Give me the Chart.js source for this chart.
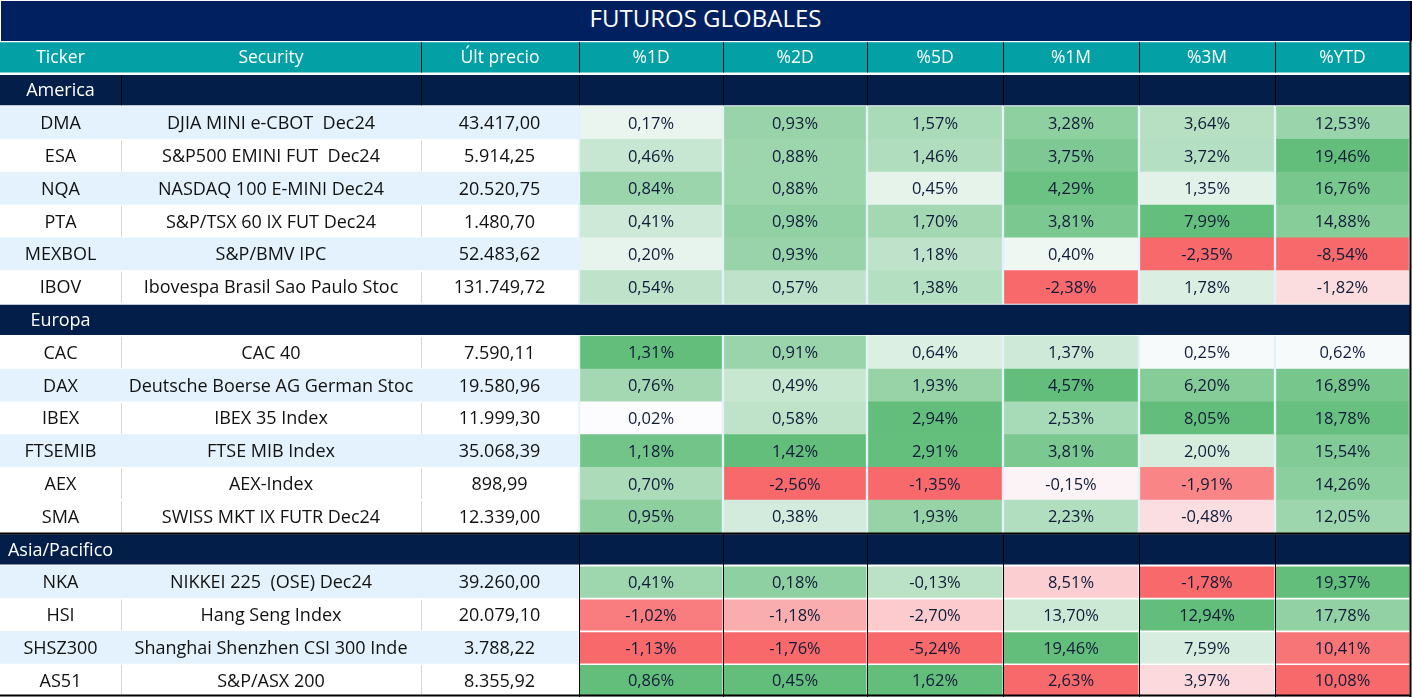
<!DOCTYPE html>
<html>
<head>
<meta charset="utf-8">
<script src="https://cdn.jsdelivr.net/npm/chart.js@4.4.1/dist/chart.umd.min.js"></script>
<style>
  html, body { margin: 0; padding: 0; background: #fff; }
  #wrap { position: relative; width: 1412px; height: 697px; overflow: hidden; }
  #title {
    position: absolute; left: 1px; top: 1px; width: 1409px; height: 40px;
    background: #002060; color: #fff; text-align: center; line-height: 42px;
    font: 24px "Open Sans", sans-serif; border-right: 2px solid #000;
  }
  #box { position: absolute; left: 0; top: 41px; width: 1412px; height: 656px; }
</style>
</head>
<body>
<div id="wrap">
  <div id="title">FUTUROS GLOBALES</div>
  <div id="box"><canvas id="tbl"></canvas></div>
</div>
<script>
// Futuros globales - heat table drawn as floating horizontal bars

const headers = ['Ticker', 'Security', 'Últ precio', '%1D', '%2D', '%5D', '%1M', '%3M', '%YTD'];
const regionNames = ['America', 'Europa', 'Asia/Pacifico'];

const tickers = ['DMA', 'ESA', 'NQA', 'PTA', 'MEXBOL', 'IBOV',
  'CAC', 'DAX', 'IBEX', 'FTSEMIB', 'AEX', 'SMA',
  'NKA', 'HSI', 'SHSZ300', 'AS51'];
const regions = ['America', 'America', 'America', 'America', 'America', 'America',
  'Europa', 'Europa', 'Europa', 'Europa', 'Europa', 'Europa',
  'Asia/Pacifico', 'Asia/Pacifico', 'Asia/Pacifico', 'Asia/Pacifico'];
const securities = ['DJIA MINI e-CBOT  Dec24', 'S&P500 EMINI FUT  Dec24', 'NASDAQ 100 E-MINI Dec24',
  'S&P/TSX 60 IX FUT Dec24', 'S&P/BMV IPC', 'Ibovespa Brasil Sao Paulo Stoc',
  'CAC 40', 'Deutsche Boerse AG German Stoc', 'IBEX 35 Index', 'FTSE MIB Index',
  'AEX-Index', 'SWISS MKT IX FUTR Dec24',
  'NIKKEI 225  (OSE) Dec24', 'Hang Seng Index', 'Shanghai Shenzhen CSI 300 Inde', 'S&P/ASX 200'];
const lastPrice = [43417.00, 5914.25, 20520.75, 1480.70, 52483.62, 131749.72,
  7590.11, 19580.96, 11999.30, 35068.39, 898.99, 12339.00,
  39260.00, 20079.10, 3788.22, 8355.92];

const pct1D = [0.17, 0.46, 0.84, 0.41, 0.20, 0.54, 1.31, 0.76, 0.02, 1.18, 0.70, 0.95, 0.41, -1.02, -1.13, 0.86];
const pct2D = [0.93, 0.88, 0.88, 0.98, 0.93, 0.57, 0.91, 0.49, 0.58, 1.42, -2.56, 0.38, 0.18, -1.18, -1.76, 0.45];
const pct5D = [1.57, 1.46, 0.45, 1.70, 1.18, 1.38, 0.64, 1.93, 2.94, 2.91, -1.35, 1.93, -0.13, -2.70, -5.24, 1.62];
const pct1M = [3.28, 3.75, 4.29, 3.81, 0.40, -2.38, 1.37, 4.57, 2.53, 3.81, -0.15, 2.23, 8.51, 13.70, 19.46, 2.63];
const pct3M = [3.64, 3.72, 1.35, 7.99, -2.35, 1.78, 0.25, 6.20, 8.05, 2.00, -1.91, -0.48, -1.78, 12.94, 7.59, 3.97];
const pctYTD = [12.53, 19.46, 16.76, 14.88, -8.54, -1.82, 0.62, 16.89, 18.78, 15.54, 14.26, 12.05, 19.37, 17.78, 10.41, 10.08];
const pctCols = [pct1D, pct2D, pct5D, pct1M, pct3M, pctYTD];

// rows with the light blue fill in the first three columns
const shadedRows = ['DMA', 'NQA', 'MEXBOL', 'DAX', 'FTSEMIB', 'NKA', 'SHSZ300'];

// layout (canvas pixels = x units)
const colEdges = [0, 121, 421, 579, 723, 867, 1003, 1139, 1275, 1410];
const FONT = '"Open Sans", sans-serif';

// colour scale groups, like the sheet's conditional formats
const scaleGroups = [
  { regions: ['America', 'Europa'], mid: 'zero' },
  { regions: ['Asia/Pacifico'], mid: 'median' }
];

const RED = [248, 105, 107], WHITE = [252, 252, 255], GREEN = [99, 190, 123];

function mix(a, b, t) {
  t = Math.max(0, Math.min(1, t));
  return 'rgb(' + a.map((c, i) => Math.round(c + (b[i] - c) * t)).join(',') + ')';
}

function median(vals) {
  const s = vals.slice().sort((a, b) => a - b);
  const m = Math.floor(s.length / 2);
  return s.length % 2 ? s[m] : (s[m - 1] + s[m]) / 2;
}

function heatColor(v, vals, rule) {
  const lo = Math.min(...vals), hi = Math.max(...vals);
  const mid = rule === 'median' ? median(vals) : Math.min(Math.max(0, lo), hi);
  if (v >= mid) return mix(WHITE, GREEN, hi > mid ? (v - mid) / (hi - mid) : 0);
  return mix(WHITE, RED, (mid - v) / (mid - lo));
}

function fmtNum(v) {
  const parts = v.toFixed(2).split('.');
  return parts[0].replace(/\B(?=(\d{3})+(?!\d))/g, '.') + ',' + parts[1];
}

// category rows, top to bottom
const rowKeys = ['hdr'];
regionNames.forEach(r => {
  rowKeys.push('sec:' + r);
  tickers.forEach((t, i) => { if (regions[i] === r) rowKeys.push(t); });
});

const headerCells = headers.map((h, c) => ({ x: [colEdges[c], colEdges[c + 1]], y: 'hdr', t: h }));

const sectionCells = [];
regionNames.forEach(r => {
  sectionCells.push({ x: [colEdges[0], colEdges[1]], y: 'sec:' + r, t: r });
  sectionCells.push({ x: [colEdges[1], colEdges[9]], y: 'sec:' + r, t: '' });
});

const rowCells = [];
tickers.forEach((t, i) => {
  const bg = shadedRows.includes(t) ? '#e4f2fd' : '#ffffff';
  rowCells.push({ x: [colEdges[0], colEdges[1]], y: t, t: t, bg: bg });
  rowCells.push({ x: [colEdges[1], colEdges[2]], y: t, t: securities[i], bg: bg });
  rowCells.push({ x: [colEdges[2], colEdges[3] - 1], y: t, t: fmtNum(lastPrice[i]), bg: bg });
});

const heatBgCells = [];
const heatCellsAE = [];
const heatCellsAsia = [];
scaleGroups.forEach(g => {
  const idx = tickers.map((t, i) => i).filter(i => g.regions.includes(regions[i]));
  pctCols.forEach((col, c) => {
    const vals = idx.map(i => col[i]);
    idx.forEach(i => {
      const cell = {
        x: [colEdges[c + 3] + 1.5, colEdges[c + 4] - 1.5], y: tickers[i],
        t: fmtNum(col[i]) + '%', bg: heatColor(col[i], vals, g.mid)
      };
      if (g.mid === 'zero') heatCellsAE.push(cell);
      else { cell.x = [colEdges[c + 3] + 0.5, colEdges[c + 4] - 0.5]; heatCellsAsia.push(cell); }
    });
  });
  if (g.mid === 'zero') idx.forEach(i => heatBgCells.push({ x: [colEdges[3] - 1, colEdges[9]], y: tickers[i] }));
});

const cellBg = ctx => (ctx.raw && ctx.raw.bg) || '#fff';

// grid lines and cell texts
const tablePlugin = {
  id: 'tableText',
  afterDatasetsDraw(chart) {
    const c = chart.ctx;
    const xs = chart.scales.x, ys = chart.scales.y;
    const half = (ys.getPixelForValue(1) - ys.getPixelForValue(0)) / 2;
    const top = k => ys.getPixelForValue(rowKeys.indexOf(k)) - half;
    const bot = k => ys.getPixelForValue(rowKeys.indexOf(k)) + half;
    const vline = (x, y0, y1, color, w) => {
      c.save();
      c.strokeStyle = color; c.lineWidth = w || 1;
      c.beginPath(); c.moveTo(Math.round(xs.getPixelForValue(x)) + 0.5, y0);
      c.lineTo(Math.round(xs.getPixelForValue(x)) + 0.5, y1); c.stroke();
      c.restore();
    };
    const hline = (y, color, w) => {
      c.save();
      c.strokeStyle = color; c.lineWidth = w;
      c.beginPath(); c.moveTo(0, y); c.lineTo(xs.getPixelForValue(colEdges[9]) + 1, y); c.stroke();
      c.restore();
    };

    // header and section separators
    const hm = chart.getDatasetMeta(0).data[0];
    const hb = hm.getProps(['y', 'height'], true);
    colEdges.slice(2, 9).forEach(e => vline(e, hb.y - hb.height / 2, hb.y + hb.height / 2, '#000'));
    const am = ys.getPixelForValue(rowKeys.indexOf('sec:America'));
    colEdges.slice(1, 9).forEach(e => vline(e, am - hb.height / 2, am + hb.height / 2, '#000'));
    const asiaTop = top('sec:Asia/Pacifico');
    colEdges.slice(3, 9).forEach(e => vline(e, asiaTop + 2, bot('AS51'), '#000'));

    // light grey separators on the white rows
    tickers.forEach(t => {
      if (shadedRows.includes(t)) return;
      [colEdges[1], colEdges[2]].forEach(e => vline(e, top(t) + 1, bot(t) - 1, '#d6d6d6'));
    });

    // borders
    hline(asiaTop + 0.5, '#000', 2);
    hline(bot('AS51') - 1.5, '#000', 2);
    vline(colEdges[9], 0, bot('AS51'), '#000', 2);

    // texts
    chart.data.datasets.forEach((ds, di) => {
      if (!ds.textColor) return;
      const meta = chart.getDatasetMeta(di);
      c.save();
      c.fillStyle = ds.textColor;
      c.font = ds.textFont;
      c.textAlign = 'center';
      c.textBaseline = 'middle';
      meta.data.forEach((el, j) => {
        const raw = ds.data[j];
        if (!raw.t) return;
        const p = el.getProps(['x', 'y', 'base'], true);
        c.fillText(raw.t, (p.x + p.base) / 2, p.y + 1);
      });
      c.restore();
    });
  }
};

const barBase = { grouped: false, categoryPercentage: 1, borderWidth: 0, borderSkipped: false };

new Chart(document.getElementById('tbl'), {
  type: 'bar',
  data: {
    labels: rowKeys,
    datasets: [
      Object.assign({}, barBase, { label: 'header', data: headerCells, barPercentage: 0.92,
        backgroundColor: '#03a0a5', textColor: '#ffffff', textFont: '17.5px ' + FONT, order: 1 }),
      Object.assign({}, barBase, { label: 'sections', data: sectionCells, barPercentage: 0.92,
        backgroundColor: '#041e4a', textColor: '#ffffff', textFont: '18px ' + FONT, order: 1 }),
      Object.assign({}, barBase, { label: 'rows', data: rowCells, barPercentage: 1,
        backgroundColor: cellBg, textColor: '#111111', textFont: '18px ' + FONT, order: 1 }),
      Object.assign({}, barBase, { label: 'heatBg', data: heatBgCells, barPercentage: 1,
        backgroundColor: '#e4f1fb', order: 3 }),
      Object.assign({}, barBase, { label: 'heatAE', data: heatCellsAE, barPercentage: 1,
        backgroundColor: cellBg, textColor: '#101b38', textFont: '16.5px ' + FONT, order: 2 }),
      Object.assign({}, barBase, { label: 'heatAsia', data: heatCellsAsia, barPercentage: 0.95,
        backgroundColor: cellBg, textColor: '#101b38', textFont: '16.5px ' + FONT, order: 2 })
    ]
  },
  options: {
    indexAxis: 'y',
    responsive: true,
    maintainAspectRatio: false,
    animation: false,
    events: [],
    layout: { padding: 0 },
    plugins: { legend: { display: false }, tooltip: { enabled: false }, title: { display: false } },
    scales: {
      x: { type: 'linear', min: 0, max: 1412, display: false },
      y: { type: 'category', display: false, offset: true }
    }
  },
  plugins: [tablePlugin]
});
</script>
</body>
</html>
